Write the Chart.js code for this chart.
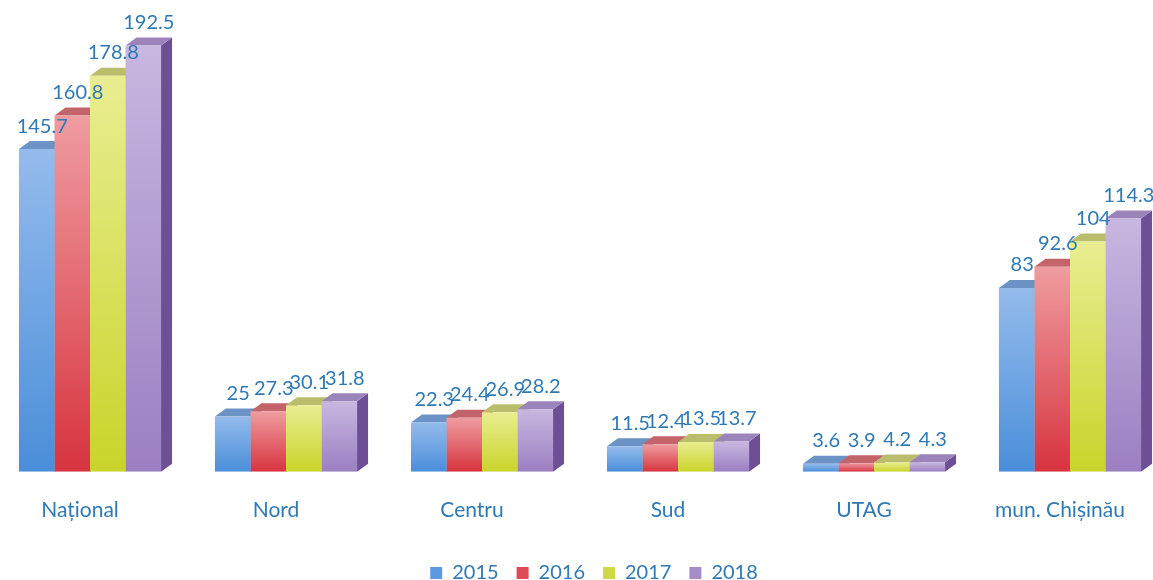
<!DOCTYPE html>
<html>
<head>
<meta charset="utf-8">
<script src="https://cdn.jsdelivr.net/npm/chart.js@4.4.1/dist/chart.umd.min.js"></script>
<style>
  html, body { margin: 0; padding: 0; background: #fff; overflow: hidden; }
  #wrap { position: absolute; left: -8px; top: 0; width: 1176px; height: 593px; }
</style>
</head>
<body>
<div id="wrap"><canvas id="chart"></canvas></div>
<script>
// regions on the x axis
const regions = ['Național', 'Nord', 'Centru', 'Sud', 'UTAG', 'mun. Chișinău'];
const years = ['2015', '2016', '2017', '2018'];

// values per year, one per region
const values2015 = [145.7, 25, 22.3, 11.5, 3.6, 83];
const values2016 = [160.8, 27.3, 24.4, 12.4, 3.9, 92.6];
const values2017 = [178.8, 30.1, 26.9, 13.5, 4.2, 104];
const values2018 = [192.5, 31.8, 28.2, 13.7, 4.3, 114.3];

// colours: light top / deep bottom of the front face, top face, side face
const palette = [
  { light: '#94bbec', deep: '#4a8ed9', top: '#6b93c6', side: '#3d6ea9', legend: '#5a9be0' },
  { light: '#ef9ca0', deep: '#d7343f', top: '#c2646a', side: '#a3303a', legend: '#de4a55' },
  { light: '#e9ed92', deep: '#c9d42a', top: '#b9bd6c', side: '#98a12a', legend: '#cfd845' },
  { light: '#c8b7e0', deep: '#9b7fc2', top: '#9b84b9', side: '#6d4f96', legend: '#a68bc9' }
];

const labelColor = '#2f79b5';
const depthX = 11;
const depthY = 8;

function frontGradient(ctx, i) {
  const chart = ctx.chart;
  const area = chart.chartArea;
  const y = chart.scales && chart.scales.y;
  if (!area || !y || ctx.parsed === undefined) return palette[i].legend;
  const top = y.getPixelForValue(ctx.parsed.y);
  const base = y.getPixelForValue(0);
  if (!isFinite(top) || !isFinite(base) || base - top < 1) return palette[i].deep;
  const g = chart.ctx.createLinearGradient(0, top, 0, base);
  g.addColorStop(0, palette[i].light);
  g.addColorStop(1, palette[i].deep);
  return g;
}

// draws the top and side faces behind the front faces
const depthPlugin = {
  id: 'depth',
  afterLayout(chart) {
    // legend sits a little right of centre in the original
    if (chart.legend) chart.legend.left += 28;
  },
  beforeDatasetsDraw(chart) {
    const c = chart.ctx;
    c.save();
    for (let j = 0; j < regions.length; j++) {
      chart.data.datasets.forEach((ds, i) => {
        const bar = chart.getDatasetMeta(i).data[j];
        if (!bar) return;
        const p = bar.getProps(['x', 'y', 'base', 'width'], true);
        const L = p.x - p.width / 2, R = p.x + p.width / 2;
        // side
        c.fillStyle = palette[i].side;
        c.beginPath();
        c.moveTo(R, p.y);
        c.lineTo(R + depthX, p.y - depthY);
        c.lineTo(R + depthX, p.base - depthY);
        c.lineTo(R, p.base);
        c.closePath();
        c.fill();
        // top
        c.fillStyle = palette[i].top;
        c.beginPath();
        c.moveTo(L, p.y);
        c.lineTo(L + depthX, p.y - depthY);
        c.lineTo(R + depthX, p.y - depthY);
        c.lineTo(R, p.y);
        c.closePath();
        c.fill();
      });
    }
    c.restore();
  }
};

// value labels above each bar
const valuePlugin = {
  id: 'values',
  afterDatasetsDraw(chart) {
    const c = chart.ctx;
    c.save();
    c.font = '20px Lato';
    c.fillStyle = labelColor;
    c.textAlign = 'center';
    c.textBaseline = 'bottom';
    chart.data.datasets.forEach((ds, i) => {
      chart.getDatasetMeta(i).data.forEach((bar, j) => {
        const p = bar.getProps(['x', 'y'], true);
        c.fillText(String(ds.data[j]), p.x + depthX / 2, p.y - depthY - 5);
      });
    });
    c.restore();
  }
};

const seriesValues = [values2015, values2016, values2017, values2018];

new Chart(document.getElementById('chart').getContext('2d'), {
  type: 'bar',
  data: {
    labels: regions,
    datasets: years.map((yr, i) => ({
      label: yr,
      data: seriesValues[i],
      backgroundColor: (ctx) => frontGradient(ctx, i),
      borderWidth: 0,
      categoryPercentage: 0.725,
      barPercentage: 1
    }))
  },
  options: {
    responsive: true,
    maintainAspectRatio: false,
    animation: false,
    layout: { padding: 0 },
    scales: {
      x: {
        grid: { display: false },
        border: { display: false },
        afterFit: (scale) => { scale.height += 4; },
        ticks: {
          padding: 18,
          labelOffset: -10,
          color: labelColor,
          font: { family: 'Lato', size: 21 }
        }
      },
      y: {
        display: false,
        min: 0,
        max: 213
      }
    },
    plugins: {
      tooltip: { enabled: false },
      legend: {
        position: 'bottom',
        labels: {
          color: labelColor,
          font: { family: 'Lato', size: 20 },
          boxWidth: 12,
          boxHeight: 12,
          padding: 18,
          generateLabels: (chart) => chart.data.datasets.map((ds, i) => ({
            text: ds.label,
            fillStyle: palette[i].legend,
            strokeStyle: palette[i].legend,
            lineWidth: 0,
            fontColor: labelColor,
            datasetIndex: i
          }))
        }
      }
    }
  },
  plugins: [depthPlugin, valuePlugin]
});
</script>
</body>
</html>
